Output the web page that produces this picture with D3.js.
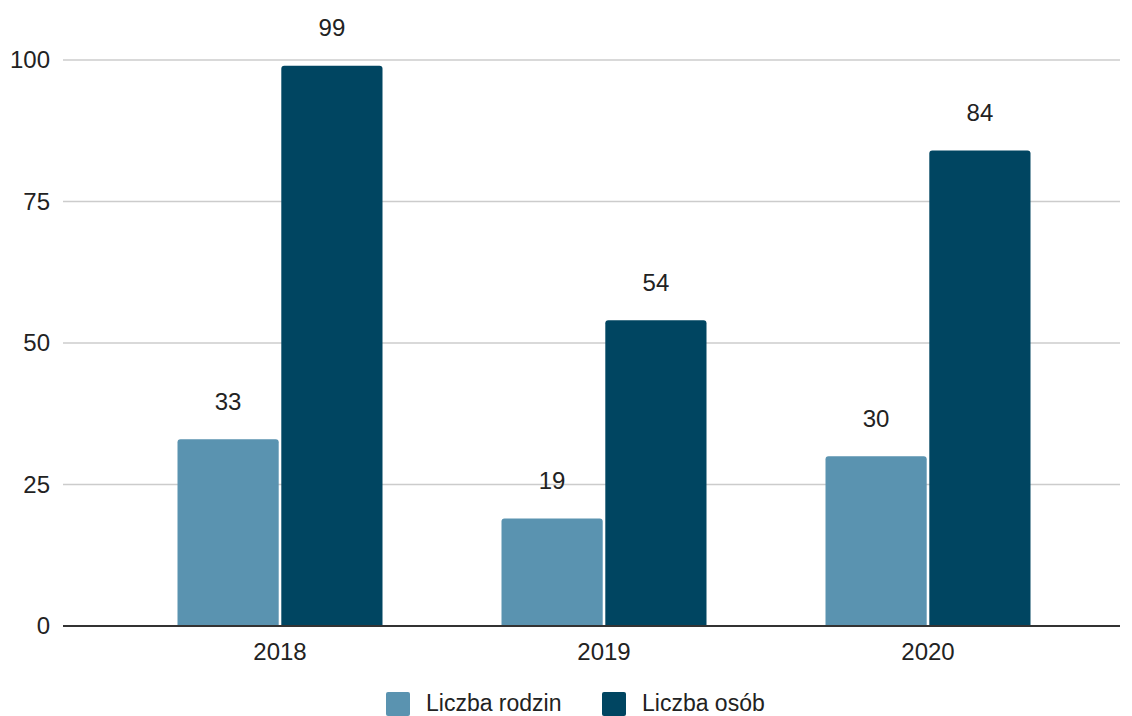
<!DOCTYPE html>
<html>
<head>
<meta charset="utf-8">
<script src="https://cdn.jsdelivr.net/npm/d3@7"></script>
<style>
  body { margin: 0; background: #fff; }
  svg { font-family: "Liberation Sans", Arial, sans-serif; }
</style>
</head>
<body>
<svg id="chart" width="1132" height="716"></svg>
<script>
var years = ["2018", "2019", "2020"];
var seriesNames = ["Liczba rodzin", "Liczba osób"];
var rodziny = [33, 19, 30];
var osoby = [99, 54, 84];
var yTicks = [0, 25, 50, 75, 100];
var colors = ["#5a93b0", "#004561"];

var svg = d3.select("#chart");
var gridLeft = 63, gridRight = 1120;

var x = d3.scaleBand()
    .domain(years)
    .range([118, 1090]);

var x1 = d3.scaleBand()
    .domain(seriesNames)
    .range([0, 205])
    .paddingInner(0.025);

var y = d3.scaleLinear()
    .domain([0, 100])
    .range([626, 60]);

// gridlines
svg.append("g")
    .selectAll("line")
    .data(yTicks.filter(function(d) { return d > 0; }))
    .enter().append("line")
    .attr("x1", gridLeft)
    .attr("x2", gridRight)
    .attr("y1", function(d) { return y(d); })
    .attr("y2", function(d) { return y(d); })
    .attr("stroke", "#cccccc")
    .attr("stroke-width", 1.5);

// y tick labels
svg.append("g")
    .selectAll("text")
    .data(yTicks)
    .enter().append("text")
    .attr("x", 50)
    .attr("y", function(d) { return y(d); })
    .attr("dy", "0.35em")
    .attr("text-anchor", "end")
    .attr("font-size", 24)
    .attr("fill", "#222")
    .text(function(d) { return d; });

var rows = years.map(function(yr, i) {
    return { year: yr, values: [rodziny[i], osoby[i]] };
});

var group = svg.append("g")
    .selectAll("g")
    .data(rows)
    .enter().append("g")
    .attr("transform", function(d) {
        return "translate(" + (x(d.year) + x.bandwidth() / 2 - 102.5) + ",0)";
    });

var r = 3;
group.selectAll("path")
    .data(function(d) { return d.values.map(function(v, j) { return { key: seriesNames[j], v: v, j: j }; }); })
    .enter().append("path")
    .attr("fill", function(d) { return colors[d.j]; })
    .attr("d", function(d) {
        var x0 = x1(d.key), w = x1.bandwidth(), top = y(d.v), bot = y(0);
        return "M" + x0 + "," + bot +
            "V" + (top + r) +
            "Q" + x0 + "," + top + " " + (x0 + r) + "," + top +
            "H" + (x0 + w - r) +
            "Q" + (x0 + w) + "," + top + " " + (x0 + w) + "," + (top + r) +
            "V" + bot + "Z";
    });

group.selectAll("text")
    .data(function(d) { return d.values.map(function(v, j) { return { key: seriesNames[j], v: v }; }); })
    .enter().append("text")
    .attr("x", function(d) { return x1(d.key) + x1.bandwidth() / 2; })
    .attr("y", function(d) { return y(d.v) - 38; })
    .attr("dy", "0.35em")
    .attr("text-anchor", "middle")
    .attr("font-size", 24)
    .attr("fill", "#222")
    .text(function(d) { return d.v; });

// baseline
svg.append("line")
    .attr("x1", gridLeft)
    .attr("x2", gridRight)
    .attr("y1", y(0))
    .attr("y2", y(0))
    .attr("stroke", "#333")
    .attr("stroke-width", 2);

// x labels
svg.append("g")
    .selectAll("text")
    .data(years)
    .enter().append("text")
    .attr("x", function(d) { return x(d) + x.bandwidth() / 2; })
    .attr("y", 652)
    .attr("dy", "0.35em")
    .attr("text-anchor", "middle")
    .attr("font-size", 24)
    .attr("fill", "#222")
    .text(function(d) { return d; });

// legend
var legendX = [386, 602];
var legend = svg.append("g")
    .selectAll("g")
    .data(seriesNames)
    .enter().append("g")
    .attr("transform", function(d, i) { return "translate(" + legendX[i] + ",692)"; });

legend.append("rect")
    .attr("width", 24)
    .attr("height", 24)
    .attr("rx", 2)
    .attr("fill", function(d, i) { return colors[i]; });

legend.append("text")
    .attr("x", 40)
    .attr("y", 19)
    .attr("font-size", 23)
    .attr("fill", "#222")
    .text(function(d) { return d; });
</script>
</body>
</html>
